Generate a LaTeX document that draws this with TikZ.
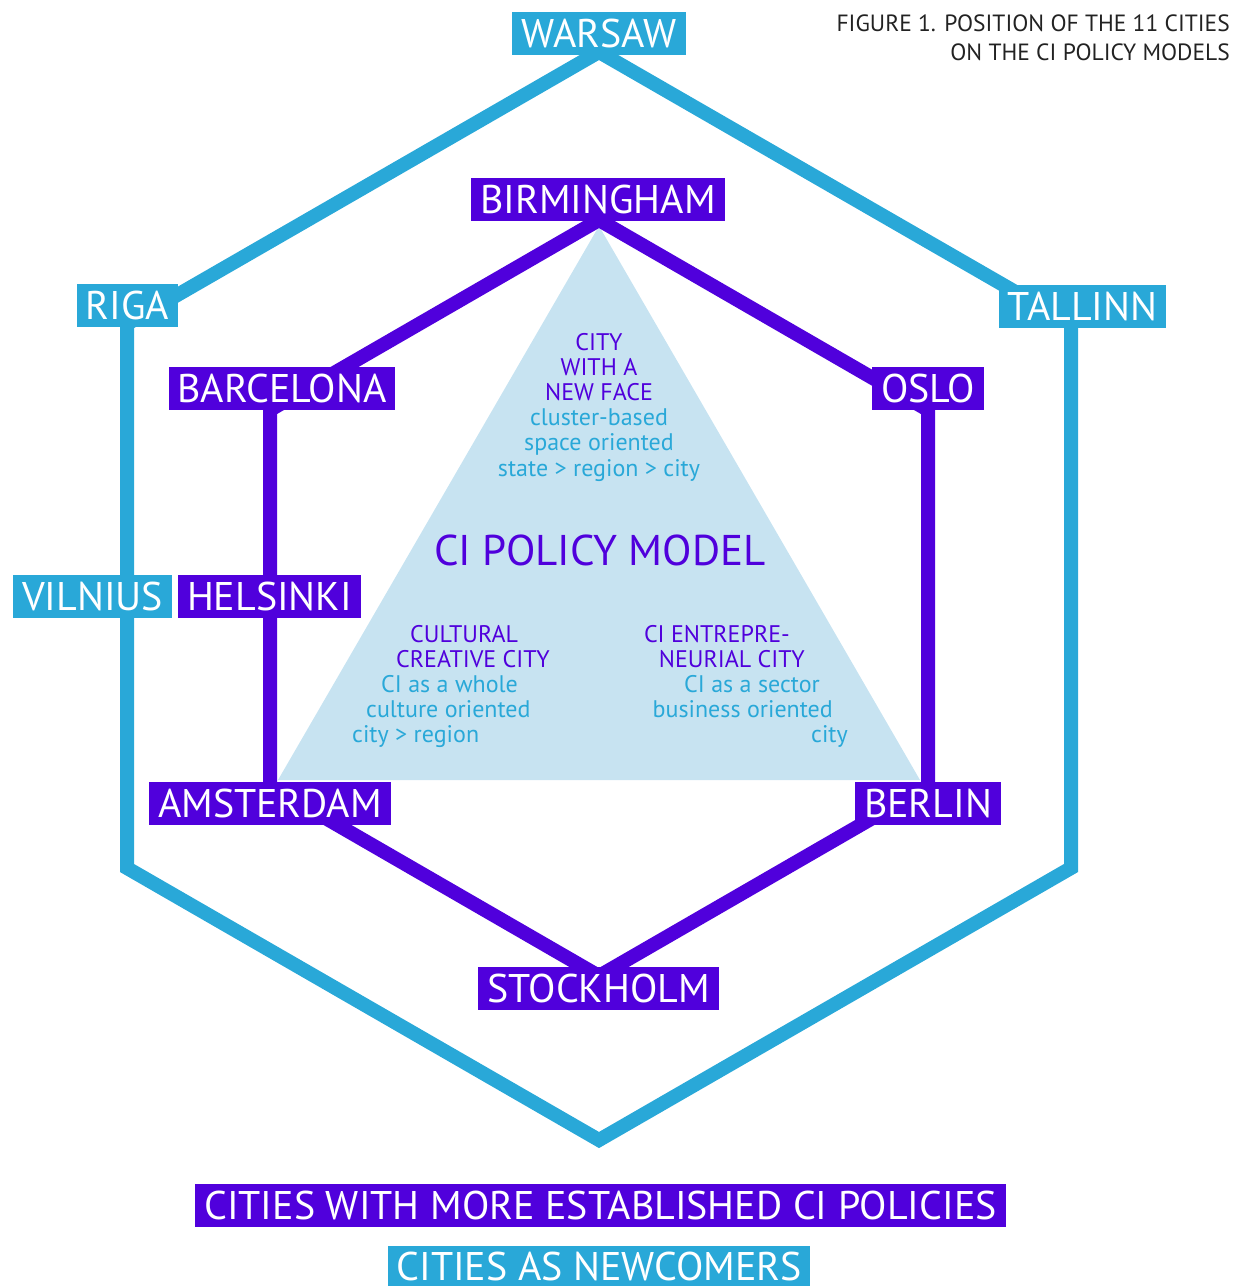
\documentclass[tikz,border=0pt]{standalone}
\usepackage{fontspec}
\setmainfont{PT Sans}
\usetikzlibrary{positioning}

\definecolor{newcyan}{HTML}{29A8D8}
\definecolor{estpurple}{HTML}{5000DC}
\definecolor{modelblue}{HTML}{C7E3F1}
\definecolor{titlegray}{HTML}{222222}

\begin{document}
\begin{tikzpicture}[
x=1pt, y=-1pt,
citybox/.style={rectangle, text=white, inner xsep=9pt, inner ysep=0pt,
  minimum height=43pt, text height=28pt, text depth=0pt,
  font=\fontsize{40}{40}\selectfont},
newcity/.style={citybox, fill=newcyan},
estcity/.style={citybox, fill=estpurple},
ring/.style={line width=14pt, line join=miter},
modeltext/.style={inner sep=0pt, font=\fontsize{24}{25}\selectfont},
titletext/.style={anchor=base east, inner sep=0pt, text=titlegray,
  font=\fontsize{23.5}{24}\selectfont}]
\useasboundingbox (0,0) rectangle (1236,1286);
% Corners
\coordinate (o1) at (599,52);
\coordinate (o2) at (1071,324);
\coordinate (o3) at (1071,868);
\coordinate (o4) at (599,1140);
\coordinate (o5) at (127,868);
\coordinate (o6) at (127,324);
\coordinate (i1) at (599,220);
\coordinate (i2) at (928,410);
\coordinate (i3) at (928,786);
\coordinate (i4) at (599,976);
\coordinate (i5) at (270,786);
\coordinate (i6) at (270,410);
% Model triangle
\fill[modelblue] (599,226) -- (920,780) -- (278,780) -- cycle;
% Lines
\draw[ring, newcyan] (o1) -- (o2) -- (o3) -- (o4) -- (o5) -- (o6) -- cycle;
\draw[ring, estpurple] (i1) -- (i2) -- (i3) -- (i4) -- (i5) -- (i6) -- cycle;
% Nodes
\node[newcity] (warsaw) at (599,33.5) {WARSAW};
\node[newcity] (riga) at (127.5,305.5) {RIGA};
\node[newcity] (tallinn) at (1082.5,306) {TALLINN};
\node[newcity] (vilnius) at (92.5,596.5) {VILNIUS};
\node[estcity] (birmingham) at (598,199.5) {BIRMINGHAM};
\node[estcity] (barcelona) at (282,388.5) {BARCELONA};
\node[estcity] (oslo) at (928,388.5) {OSLO};
\node[estcity] (helsinki) at (269.5,596.5) {HELSINKI};
\node[estcity] (amsterdam) at (270,803.5) {AMSTERDAM};
\node[estcity] (berlin) at (928,803.5) {BERLIN};
\node[estcity] (stockholm) at (598.5,988) {STOCKHOLM};
% Model texts
\node[text=estpurple, inner sep=0pt, font=\fontsize{43}{43}\selectfont] (model) at (600,550) {CI POLICY MODEL};
\foreach \txt [count=\k from 0] in {CITY, WITH A, NEW FACE}
  \node[modeltext, text=estpurple, anchor=base] (face\k) at (599,350+25.2*\k) {\txt};
\foreach \txt [count=\k from 3] in {cluster-based, space oriented, state > region > city}
  \node[modeltext, text=newcyan, anchor=base] (face\k) at (599,350+25.2*\k) {\txt};
\foreach \txt/\xx/\yy/\col [count=\k] in {CULTURAL/410/642/estpurple, CREATIVE CITY/396/667/estpurple,
    CI as a whole/381/692/newcyan, culture oriented/366/717/newcyan, city > region/352/742/newcyan}
  \node[modeltext, text=\col, anchor=base west] (cultural\k) at (\xx,\yy) {\txt};
\foreach \txt/\xx/\yy/\col [count=\k] in {CI ENTREPRE-/790/642/estpurple, NEURIAL CITY/805/667/estpurple,
    CI as a sector/820/692/newcyan, business oriented/833/717/newcyan, city/848/742/newcyan}
  \node[modeltext, text=\col, anchor=base east] (entre\k) at (\xx,\yy) {\txt};
% Title
\node[titletext] (title1) at (1230,31) {FIGURE 1. POSITION OF THE 11 CITIES};
\node[titletext] (title2) at (1230,60) {ON THE CI POLICY MODELS};
% Legend
\node[estcity] (established) at (600.5,1205.5) {CITIES WITH MORE ESTABLISHED CI POLICIES};
\node[newcity, minimum height=40pt] (newcomers) at (599,1266) {CITIES AS NEWCOMERS};
\end{tikzpicture}
\end{document}
